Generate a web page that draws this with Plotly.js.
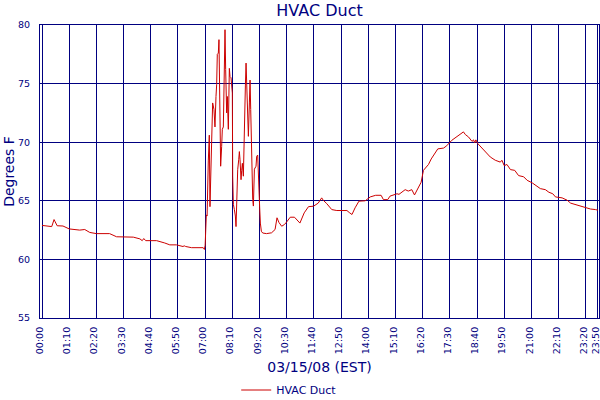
<!DOCTYPE html>
<html>
<head>
<meta charset="utf-8">
<script src="https://cdn.plot.ly/plotly-3.0.1.min.js"></script>
<style>html,body{margin:0;padding:0;background:#fff;}#chart{width:600px;height:400px;}</style>
</head>
<body>
<div id="chart"></div>
<script>
// Minutes after midnight, 03/15/08 (EST)
var minutes = [0,10,25,28,31,34,39,54,62,70,97,110,123,140,174,192,235,252,258,262,267,295,316,329,346,363,366,370,385,415,418,420,423,425,
428.1,430.7,432.4,434.1,436.7,439.3,442.7,445.3,447.9,449.6,451.3,453.9,455.6,456.5,458.2,459.9,462.5,464.2,466.8,469.4,471.1,472.8,475.4,477.1,479.7,482.3,484.0,486.6,488.3,490.0,490.9,492.6,495.2,497.8,499.5,501.2,503.8,506.4,508.1,509.8,512.4,514.1,515.8,518.4,520.1,521.8,523.6,525.3,527.0,528.7,531.3,533.9,535.6,537.3,539.0,540.7,542.5,544.2,546.8,551.0,552.7,555.3,557.0,558.7,560.4,562.1,564.7,568.2,
578,591,600,605,610,617,624,630,639,650,658,664,675,686,699,711,720,724,733,746,759,772,785,791,798,806,816,832,845,859,873,879,890,896,907,914,919,926,935,943,952,959,968,976,982,988,995,1002,1011,1019,1034,1042,1055,1068,1079,1085,1090,1098,1107,1111,1114,1117,1122,1133,1143,1154,1167,1180,1184,1190,1197,1206,1217,1227,1240,1249,1262,1272,1283,1296,1305,1315,1322,1339,1352,1361,1373,1391,1401,1412,1425,1431];

// Temperature, degrees F
var temps = [62.9,62.85,62.8,63.1,63.4,63.2,62.87,62.85,62.75,62.6,62.5,62.55,62.3,62.2,62.2,61.93,61.9,61.75,61.6,61.78,61.6,61.6,61.4,61.24,61.24,61.1,61.16,61.1,61.0,61.0,60.85,61.2,63.8,63.7,
68.4,70.6,64.5,67.5,71.2,73.35,72.8,71.3,73.9,74.9,77.5,77.6,78.75,76.75,71.2,67.95,69.65,71.1,71.3,77.6,79.6,76.2,72.5,73.9,71.1,76.3,75.6,75.5,75.05,74.2,67.1,64.7,64.25,63.7,62.8,66.2,67.65,68.5,69.2,68.5,66.8,67.6,68.2,67.1,70.5,72.2,74.8,76.75,74.8,71.3,70.5,73.35,75.3,72.8,69.65,67.7,65.1,64.55,67.7,67.95,68.8,68.9,66.8,66.0,64.4,63.1,62.4,62.25,
62.2,62.27,62.55,63.55,63.15,62.83,62.97,63.2,63.6,63.6,63.3,63.1,63.97,64.5,64.54,64.8,65.25,65.05,64.76,64.25,64.17,64.2,64.17,64.0,63.83,64.4,64.97,65.0,65.33,65.47,65.47,65.1,65.1,65.4,65.5,65.6,65.55,65.73,65.95,65.83,65.95,65.5,66.1,66.58,67.6,67.8,68.1,68.57,69.08,69.43,69.5,69.7,70.16,70.45,70.73,70.88,70.65,70.45,70.07,70.2,69.95,70.2,69.88,69.5,69.08,68.74,68.46,68.3,68.46,68.0,68.1,67.66,67.6,67.15,67.05,66.75,66.53,66.3,66.04,65.95,65.73,65.6,65.33,65.25,65.05,64.8,64.67,64.54,64.4,64.3,64.25,64.2];

var tickMinutes = [0,70,140,210,280,350,420,490,560,630,700,770,840,910,980,1050,1120,1190,1260,1330,1400,1430];
var tickLabels = ["00:00","01:10","02:20","03:30","04:40","05:50","07:00","08:10","09:20","10:30","11:40","12:50","14:00","15:10","16:20","17:30","18:40","19:50","21:00","22:10","23:20","23:50"];
var yTicks = [55,60,65,70,75,80];
var seriesName = "HVAC Duct";

var navy = "#000080";
var F = "DejaVu Sans";

var trace = {
  x: minutes, y: temps, type: "scatter", mode: "lines", name: seriesName,
  line: {color: "#CC0000", width: 1},
  showlegend: true
};

var layout = {
  width: 600, height: 400,
  margin: {l: 40, r: 1, t: 25, b: 82, pad: 0},
  paper_bgcolor: "#ffffff", plot_bgcolor: "#ffffff",
  font: {family: F, color: navy},
  title: {text: "HVAC Duct", font: {family: F, size: 16, color: navy}, x: 0.5, xref: "paper", y: 0.975, yref: "container", yanchor: "middle"},
  xaxis: {
    range: [-5.2, 1434], tickmode: "array", tickvals: tickMinutes, ticktext: tickLabels,
    tickangle: -90, tickfont: {family: F, size: 9.5, color: navy},
    showgrid: true, gridcolor: navy, gridwidth: 1,
    showline: true, linecolor: navy, linewidth: 1, mirror: true,
    ticks: "", ticklabelstandoff: 4, ticklabelshift: -2, ticklabeloverflow: "allow", zeroline: false, automargin: false,
    title: {text: "03/15/08 (EST)", font: {family: F, size: 14, color: navy}, standoff: 9}
  },
  yaxis: {
    range: [55, 80], tickmode: "array", tickvals: yTicks,
    tickfont: {family: F, size: 9.5, color: navy},
    showgrid: true, gridcolor: navy, gridwidth: 1,
    showline: true, linecolor: navy, linewidth: 1, mirror: true,
    ticks: "", ticklabelstandoff: 7, zeroline: false, automargin: false,
    title: {text: "Degrees F", font: {family: F, size: 14, color: navy}, standoff: 0}
  },
  showlegend: true,
  legend: {orientation: "h", x: 0.351, xanchor: "left", xref: "paper", y: 0.025, yanchor: "middle", yref: "container",
           font: {family: F, size: 11, color: navy}, bgcolor: "rgba(0,0,0,0)", itemwidth: 30}
};

Plotly.newPlot("chart", [trace], layout, {displayModeBar: false, staticPlot: true});
</script>
</body>
</html>
